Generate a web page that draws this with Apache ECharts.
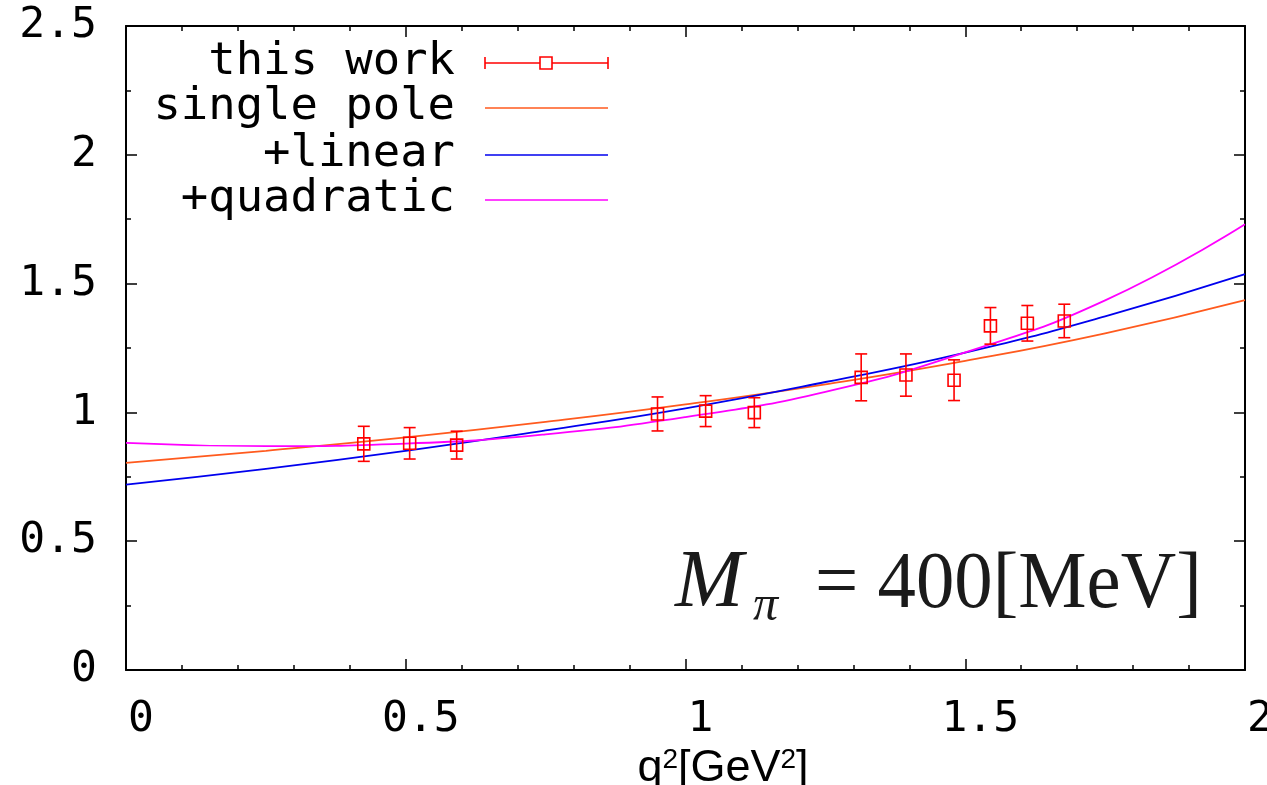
<!DOCTYPE html>
<html>
<head>
<meta charset="utf-8">
<script src="https://cdn.jsdelivr.net/npm/echarts@6/dist/echarts.min.js"></script>
<style>
html, body { margin: 0; padding: 0; background: #fff; }
#chart { width: 1267px; height: 785px; }
</style>
</head>
<body>
<div id="chart"></div>
<script>
// lattice points: q^2, value, error
const pointQ2 = [0.425, 0.507, 0.591, 0.950, 1.036, 1.123, 1.314, 1.394, 1.480, 1.545, 1.611, 1.677];
const pointVal = [0.878, 0.880, 0.873, 0.994, 1.005, 0.999, 1.136, 1.145, 1.125, 1.336, 1.346, 1.355];
const pointErr = [0.068, 0.061, 0.054, 0.066, 0.060, 0.058, 0.091, 0.082, 0.079, 0.071, 0.069, 0.065];

// fit curves, every 0.25 in q^2
const curveQ2 = [0, 0.25, 0.5, 0.75, 1.0, 1.25, 1.5, 1.75, 2.0];
const singlePole = [0.804, 0.851, 0.903, 0.963, 1.031, 1.109, 1.200, 1.307, 1.436];
const plusLinear = [0.720, 0.781, 0.851, 0.930, 1.016, 1.118, 1.232, 1.373, 1.537];
const plusQuadratic = [0.882, 0.869, 0.879, 0.915, 0.982, 1.080, 1.233, 1.435, 1.730];

const xTickLabels = ['0', '0.5', '1', '1.5', '2'];
const yTickLabels = ['0', '0.5', '1', '1.5', '2', '2.5'];

const legendNames = ['this work', 'single pole', '+linear', '+quadratic'];
const legendColors = ['#ff0000', '#ff5a1e', '#0000ee', '#ff00ff'];

const mono = '"DejaVu Sans Mono"';

const chart = echarts.init(document.getElementById('chart'));

function pairs(xs, ys) {
  return xs.map((x, i) => [x, ys[i]]);
}

function errBar(params, api) {
  const x = api.value(0), y = api.value(1), e = api.value(2);
  const c = api.coord([x, y]);
  const t = api.coord([x, y + e]);
  const b = api.coord([x, y - e]);
  const cap = 6, h = 6;
  const st = { stroke: '#ff0000', lineWidth: 1.6, fill: null };
  return {
    type: 'group',
    children: [
      { type: 'line', shape: { x1: c[0], y1: t[1], x2: c[0], y2: b[1] }, style: st },
      { type: 'line', shape: { x1: c[0] - cap, y1: t[1], x2: c[0] + cap, y2: t[1] }, style: st },
      { type: 'line', shape: { x1: c[0] - cap, y1: b[1], x2: c[0] + cap, y2: b[1] }, style: st },
      { type: 'rect', shape: { x: c[0] - h, y: c[1] - h, width: 2 * h, height: 2 * h }, style: st }
    ]
  };
}

const axisLineStyle = { color: '#000', width: 2 };
const tick = { show: true, inside: true, length: 11, lineStyle: { color: '#000', width: 1.5 } };

function xAx(pos) {
  return {
    type: 'value', position: pos, min: 0, max: 2, interval: 0.5,
    axisLine: { show: true, onZero: false, lineStyle: axisLineStyle },
    axisTick: tick,
    minorTick: { show: true, splitNumber: 5, length: 5, lineStyle: { color: '#000', width: 1.5 } },
    splitLine: { show: false },
    axisLabel: pos === 'bottom' ? {
      fontFamily: mono, fontSize: 43, color: '#000', margin: 28,
      padding: [0, 0, 0, 30],
      formatter: v => xTickLabels[Math.round(v / 0.5)]
    } : { show: false }
  };
}

function yAx(pos) {
  return {
    type: 'value', position: pos, min: 0, max: 2.5, interval: 0.5,
    axisLine: { show: true, onZero: false, lineStyle: axisLineStyle },
    axisTick: tick,
    minorTick: { show: true, splitNumber: 2, length: 5, lineStyle: { color: '#000', width: 1.5 } },
    splitLine: { show: false },
    axisLabel: pos === 'left' ? {
      fontFamily: mono, fontSize: 43, color: '#000', margin: 29,
      formatter: v => yTickLabels[Math.round(v / 0.5)]
    } : { show: false }
  };
}

const xBottom = xAx('bottom');
xBottom.name = '{b|q}{s|2}{b|[GeV}{s|2}{b|]}';
xBottom.nameLocation = 'middle';
xBottom.nameGap = 66;
xBottom.nameTextStyle = {
  padding: [0, 0, 0, 75],
  rich: {
    b: { fontFamily: 'Liberation Sans', fontSize: 45, color: '#000', verticalAlign: 'bottom' },
    s: { fontFamily: 'Liberation Sans', fontSize: 28, color: '#000', verticalAlign: 'top' }
  }
};

// legend drawn gnuplot style: text right aligned, sample on the right
const legendRows = [63, 108, 155, 200];
const legendGraphics = [];
legendNames.forEach((name, i) => {
  const y = legendRows[i];
  legendGraphics.push({
    type: 'text', x: 455, y: y, scaleX: 1.035,
    style: { text: name, font: '44px ' + mono, fill: '#000', align: 'right', verticalAlign: 'middle' }
  });
  legendGraphics.push({
    type: 'line', shape: { x1: 485, y1: y, x2: 608, y2: y },
    style: { stroke: legendColors[i], lineWidth: 1.6 }
  });
});
const r0 = legendRows[0];
legendGraphics.push(
  { type: 'line', shape: { x1: 485, y1: r0 - 6, x2: 485, y2: r0 + 6 }, style: { stroke: '#ff0000', lineWidth: 1.6 } },
  { type: 'line', shape: { x1: 608, y1: r0 - 6, x2: 608, y2: r0 + 6 }, style: { stroke: '#ff0000', lineWidth: 1.6 } },
  { type: 'rect', shape: { x: 540, y: r0 - 6, width: 12, height: 12 }, style: { stroke: '#ff0000', fill: '#fff', lineWidth: 1.6 } }
);

const label = [
  { type: 'text', x: 675, y: 584, style: { text: 'M', font: 'italic 82px "Liberation Serif"', fill: '#1a1a1a', verticalAlign: 'middle' } },
  { type: 'text', x: 753, y: 607, style: { text: 'π', font: 'italic 50px "Liberation Serif"', fill: '#1a1a1a', verticalAlign: 'middle' } },
  { type: 'text', x: 815, y: 586, scaleX: 0.96, style: { text: '= 400[MeV]', font: '80px "Liberation Serif"', fill: '#1a1a1a', verticalAlign: 'middle' } }
];

chart.setOption({
  animation: false,
  backgroundColor: '#fff',
  grid: { left: 126, right: 22, top: 26, bottom: 115, outerBoundsMode: 'none' },
  xAxis: [xBottom, xAx('top')],
  yAxis: [yAx('left'), yAx('right')],
  graphic: legendGraphics.concat(label),
  series: [
    {
      name: 'single pole', type: 'line', data: pairs(curveQ2, singlePole),
      smooth: true, showSymbol: false, lineStyle: { color: legendColors[1], width: 1.8 }
    },
    {
      name: '+linear', type: 'line', data: pairs(curveQ2, plusLinear),
      smooth: true, showSymbol: false, lineStyle: { color: legendColors[2], width: 1.8 }
    },
    {
      name: '+quadratic', type: 'line', data: pairs(curveQ2, plusQuadratic),
      smooth: true, showSymbol: false, lineStyle: { color: legendColors[3], width: 1.8 }
    },
    {
      name: 'this work', type: 'custom', renderItem: errBar,
      data: pointQ2.map((q, i) => [q, pointVal[i], pointErr[i]]),
      z: 5
    }
  ]
});
</script>
</body>
</html>
